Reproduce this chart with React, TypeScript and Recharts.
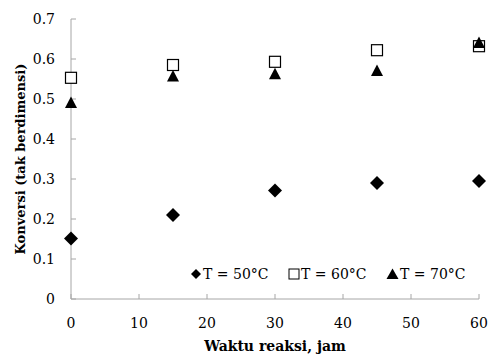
import React from 'react';
import { ScatterChart, Scatter, XAxis, YAxis, Label } from 'recharts';

const waktu = [0, 15, 30, 45, 60];
const konversi50 = [0.151, 0.21, 0.271, 0.29, 0.295];
const konversi60 = [0.553, 0.585, 0.593, 0.622, 0.632];
const konversi70 = [0.49, 0.556, 0.562, 0.57, 0.64];
const seriesNames = ['T = 50°C', 'T = 60°C', 'T = 70°C'];
const xTicks = [0, 10, 20, 30, 40, 50, 60];
const yTicks = [0, 0.1, 0.2, 0.3, 0.4, 0.5, 0.6, 0.7];

const toPoints = (ys: number[]) => waktu.map((x, i) => ({ x, y: ys[i] }));

// Liberation Serif is not in the sandbox, DejaVu Serif is (wider, so sizes are smaller)
const FONT = "'DejaVu Serif', serif";
const AXIS = '#a6a6a6';

// marker shapes, centered on the point the scatter gives us
const Diamond = (p: any) => (
  <polygon
    points={`${p.cx},${p.cy - 7} ${p.cx + 7},${p.cy} ${p.cx},${p.cy + 7} ${p.cx - 7},${p.cy}`}
    fill="#000"
  />
);
const Square = (p: any) => (
  <rect x={p.cx - 5.5} y={p.cy - 5.5} width={11} height={11} fill="#fff" stroke="#000" strokeWidth={1.2} />
);
const Triangle = (p: any) => (
  <polygon points={`${p.cx},${p.cy - 6.5} ${p.cx + 6},${p.cy + 5} ${p.cx - 6},${p.cy + 5}`} fill="#000" />
);

const legendIcons = [
  <svg width={12} height={12} style={{ marginRight: 1 }}>
    <polygon points="6,1 11,6 6,11 1,6" fill="#000" />
  </svg>,
  <svg width={12} height={12} style={{ marginRight: 1 }}>
    <rect x={1} y={1} width={10} height={10} fill="#fff" stroke="#000" strokeWidth={1} />
  </svg>,
  <svg width={13} height={12} style={{ marginRight: 1 }}>
    <polygon points="6.5,0.5 12.5,11 0.5,11" fill="#000" />
  </svg>,
];

const YTitle = (props: any) => {
  const { viewBox } = props;
  const cy = viewBox.y + viewBox.height / 2;
  return (
    <text
      x={20}
      y={cy}
      transform={`rotate(-90, 20, ${cy})`}
      textAnchor="middle"
      dominantBaseline="central"
      style={{ fontFamily: FONT, fontSize: 13, fontWeight: 'bold', fill: '#000' }}
    >
      Konversi (tak berdimensi)
    </text>
  );
};

export default function App() {
  const tickStyle = { fontFamily: FONT, fontSize: 14, fill: '#000' };
  return (
    <div style={{ position: 'absolute', left: 0, top: 0, background: '#fff', fontFamily: FONT }}>
      <ScatterChart width={489} height={354} margin={{ top: 19, right: 10, bottom: 0, left: 0 }}>
        <XAxis
          type="number"
          dataKey="x"
          domain={[0, 60]}
          ticks={xTicks}
          height={55}
          stroke={AXIS}
          tickSize={-5}
          tickMargin={24}
          tick={tickStyle}
          interval={0}
        >
          <Label
            value="Waktu  reaksi, jam"
            position="insideBottom"
            offset={3}
            style={{ fontFamily: FONT, fontSize: 14, fontWeight: 'bold', fill: '#000', whiteSpace: 'pre' }}
          />
        </XAxis>
        <YAxis
          type="number"
          dataKey="y"
          domain={[0, 0.7]}
          ticks={yTicks}
          width={71}
          stroke={AXIS}
          tickSize={-5}
          tickMargin={21}
          tick={tickStyle}
          interval={0}
        >
          <Label content={<YTitle />} />
        </YAxis>
        <Scatter name={seriesNames[0]} data={toPoints(konversi50)} shape={Diamond} isAnimationActive={false} />
        <Scatter name={seriesNames[1]} data={toPoints(konversi60)} shape={Square} isAnimationActive={false} />
        <Scatter name={seriesNames[2]} data={toPoints(konversi70)} shape={Triangle} isAnimationActive={false} />
      </ScatterChart>
      {/* legend sits inside the plot, so it is laid over the chart */}
      <div
        style={{
          position: 'absolute',
          top: 266,
          left: 190,
          display: 'flex',
          fontFamily: FONT,
          fontSize: 14,
          lineHeight: '16px',
          color: '#000',
          whiteSpace: 'nowrap',
        }}
      >
        {seriesNames.map((n, i) => (
          <span key={n} style={{ display: 'flex', alignItems: 'center', width: i < 2 ? 98 : 'auto' }}>
            {legendIcons[i]}
            {n}
          </span>
        ))}
      </div>
    </div>
  );
}
